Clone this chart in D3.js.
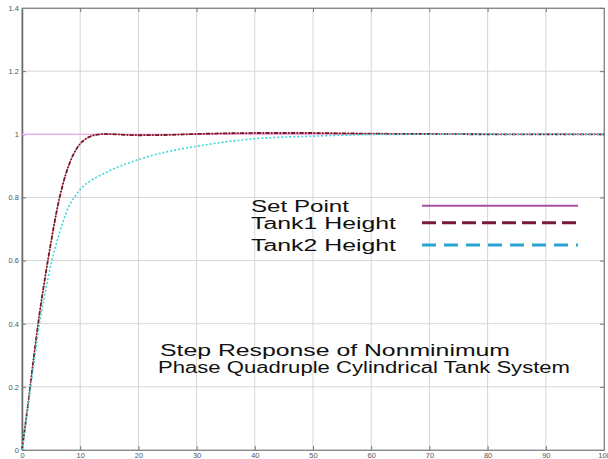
<!DOCTYPE html>
<html>
<head>
<meta charset="utf-8">
<script src="https://cdn.jsdelivr.net/npm/d3@7"></script>
<style>
  body { margin: 0; background: #fff; }
  text { font-family: "Liberation Sans", Arial, sans-serif; }
</style>
</head>
<body>
<div class="main"></div>
<script>
// data
var xTicks = [0, 10, 20, 30, 40, 50, 60, 70, 80, 90, 100];
var yTicks = [0, 0.2, 0.4, 0.6, 0.8, 1, 1.2, 1.4];
var yTickLabels = ["0", "0.2", "0.4", "0.6", "0.8", "1", "1.2", "1.4"];

var setTime = [0, 100];
var setValue = [1, 1];

var tank1Time = [0, 1, 2, 3, 4, 5, 6, 7, 8, 9, 10, 11, 12, 13, 14, 16, 18, 20, 25, 30, 35, 40, 45, 50, 55, 60, 70, 80, 90, 100];
var tank1Value = [0, 0.14, 0.29, 0.43, 0.55, 0.66, 0.76, 0.84, 0.9, 0.942, 0.97, 0.986, 0.995, 0.999, 1.001, 1.0, 0.998, 0.997, 0.998, 1.001, 1.003, 1.004, 1.004, 1.004, 1.003, 1.002, 1.001, 1.0, 1.0, 1.0];

var tank2Time = [0, 1, 2, 3, 4, 5, 6, 7, 8, 9, 10, 12, 14, 16, 18, 20, 25, 30, 35, 40, 45, 50, 55, 60, 70, 80, 90, 100];
var tank2Value = [0, 0.13, 0.27, 0.4, 0.5, 0.59, 0.66, 0.72, 0.77, 0.8, 0.825, 0.855, 0.875, 0.893, 0.907, 0.92, 0.945, 0.962, 0.976, 0.986, 0.991, 0.994, 0.997, 0.999, 1.0, 1.0, 1.0, 1.0];

var legendNames = ["Set Point", "Tank1 Height", "Tank2 Height"];
var titleLines = ["Step Response of Nonminimum", "Phase Quadruple Cylindrical Tank System"];

// svg + margins
var margin = { top: 8, right: 4, bottom: 9, left: 22 };
var fullwidth = 608, fullheight = 459;
var width = fullwidth - margin.left - margin.right;
var height = fullheight - margin.top - margin.bottom;

var svg = d3.select(".main")
  .append("svg")
  .attr("width", fullwidth)
  .attr("height", fullheight)
  .append("g")
  .attr("transform", "translate(" + margin.left + "," + margin.top + ")");

var x = d3.scaleLinear().domain([0, 100]).range([0, width]);
var y = d3.scaleLinear().domain([0, 1.4]).range([height, 0]);

// grid
svg.append("g")
  .selectAll("line")
  .data(xTicks.slice(1, -1))
  .join("line")
  .attr("x1", d => x(d)).attr("x2", d => x(d))
  .attr("y1", 0).attr("y2", height)
  .attr("stroke", "#d6d6d6").attr("stroke-width", 1);

svg.append("g")
  .selectAll("line")
  .data(yTicks.slice(1, -1))
  .join("line")
  .attr("x1", 0).attr("x2", width)
  .attr("y1", d => y(d)).attr("y2", d => y(d))
  .attr("stroke", "#d6d6d6").attr("stroke-width", 1);

// frame
svg.append("rect")
  .attr("width", width).attr("height", height)
  .attr("fill", "none").attr("stroke", "#9a9a9a").attr("stroke-width", 1);

// axes
var xAxis = svg.append("g")
  .attr("transform", "translate(0," + height + ")")
  .call(d3.axisBottom(x).tickValues(xTicks).tickSizeInner(-4).tickSizeOuter(0).tickPadding(3));
var yAxis = svg.append("g")
  .call(d3.axisLeft(y).tickValues(yTicks).tickFormat((d, i) => yTickLabels[i]).tickSizeInner(-4).tickSizeOuter(0).tickPadding(3));

// top + right ticks
svg.append("g")
  .call(d3.axisTop(x).tickValues(xTicks).tickSizeInner(-4).tickSizeOuter(0).tickFormat(""));
svg.append("g")
  .attr("transform", "translate(" + width + ",0)")
  .call(d3.axisRight(y).tickValues(yTicks).tickSizeInner(-4).tickSizeOuter(0).tickFormat(""));

svg.selectAll(".domain").attr("stroke", "#8a8a8a");
svg.selectAll(".tick line").attr("stroke", "#777");
xAxis.selectAll("text").attr("font-size", 7.5).attr("fill", "#555").attr("dy", "0.7em");
yAxis.selectAll("text").attr("font-size", 7.5).attr("fill", "#555");
yAxis.select(".domain").attr("stroke", "#666").attr("stroke-width", 1.5);

// lines
var line = d3.line()
  .x(d => x(d[0]))
  .y(d => y(d[1]))
  .curve(d3.curveMonotoneX);

svg.append("path")
  .datum(d3.zip(setTime, setValue))
  .attr("d", line)
  .attr("fill", "none")
  .attr("stroke", "#f0a8f0")
  .attr("stroke-width", 1.2);

svg.append("path")
  .datum(d3.zip(tank1Time, tank1Value))
  .attr("d", line)
  .attr("fill", "none")
  .attr("stroke", "#e05050")
  .attr("stroke-width", 1);

svg.append("path")
  .datum(d3.zip(tank1Time, tank1Value))
  .attr("d", line)
  .attr("fill", "none")
  .attr("stroke", "#6e1a2e")
  .attr("stroke-width", 1.8)
  .attr("stroke-dasharray", "4,1.5,1.5,1.5");

svg.append("path")
  .datum(d3.zip(tank2Time, tank2Value))
  .attr("d", line)
  .attr("fill", "none")
  .attr("stroke", "#3ed8d8")
  .attr("stroke-width", 1.6)
  .attr("stroke-dasharray", "2,2");

// legend
var legendColors = ["#a4509e", "#7a1838", "#2aa4d4"];
var legendDash = [null, "14,6", "14,8"];
var legendWidths = [98, 145, 145];
var legendRows = [197.7, 214.7, 237];
var legend = svg.append("g");
legendNames.forEach((name, i) => {
  var ly = legendRows[i];
  legend.append("text")
    .attr("x", 229)
    .attr("y", ly + 6.3)
    .attr("font-size", 16)
    .attr("fill", "#111")
    .attr("textLength", legendWidths[i])
    .attr("lengthAdjust", "spacingAndGlyphs")
    .text(name);
  legend.append("line")
    .attr("x1", 400).attr("x2", 556)
    .attr("y1", ly).attr("y2", ly)
    .attr("stroke", legendColors[i])
    .attr("stroke-width", i == 0 ? 2 : 3)
    .attr("stroke-dasharray", legendDash[i]);
});

// title inside plot
var titleCenters = [313, 342];
var titleWidths = [350, 412];
titleLines.forEach((t, i) => {
  svg.append("text")
    .attr("x", titleCenters[i])
    .attr("y", 348 + i * 16.7)
    .attr("text-anchor", "middle")
    .attr("font-size", 16)
    .attr("fill", "#111")
    .attr("textLength", titleWidths[i])
    .attr("lengthAdjust", "spacingAndGlyphs")
    .text(t);
});
</script>
</body>
</html>
